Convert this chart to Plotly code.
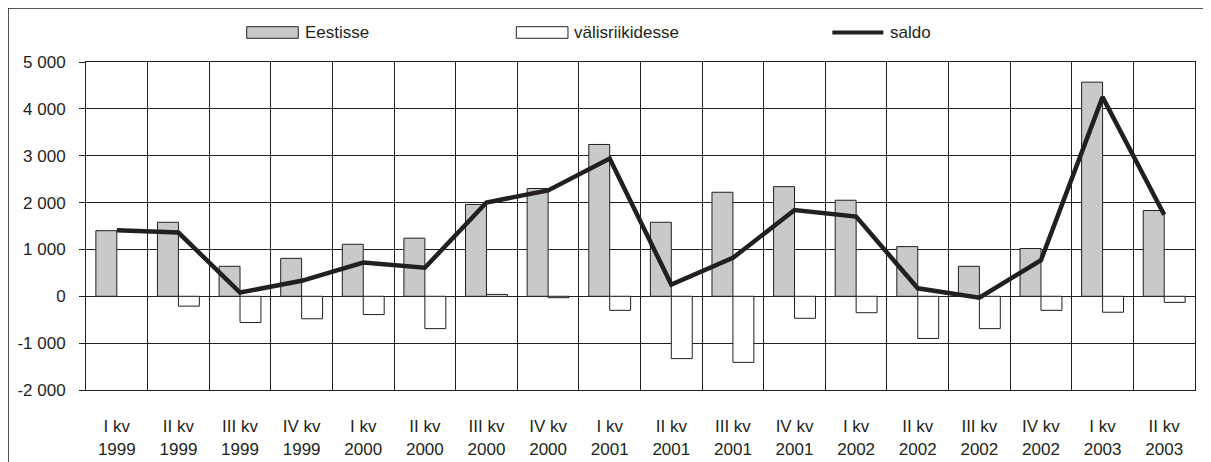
import plotly.graph_objects as go

quarters = ["I kv", "II kv", "III kv", "IV kv", "I kv", "II kv", "III kv", "IV kv",
            "I kv", "II kv", "III kv", "IV kv", "I kv", "II kv", "III kv", "IV kv",
            "I kv", "II kv"]
years = ["1999", "1999", "1999", "1999", "2000", "2000", "2000", "2000",
         "2001", "2001", "2001", "2001", "2002", "2002", "2002", "2002",
         "2003", "2003"]
categories = [f"{q}<br>{y}" for q, y in zip(quarters, years)]

eestisse = [1400, 1580, 640, 810, 1110, 1240, 1960, 2300, 3240, 1580, 2220, 2340,
            2050, 1060, 640, 1020, 4570, 1830]
valisriikidesse = [None, -210, -560, -480, -390, -690, 40, -30, -300, -1330, -1410, -470,
                   -350, -900, -690, -300, -340, -130]
saldo = [1410, 1360, 80, 330, 720, 610, 2000, 2260, 2940, 250, 820, 1840,
         1700, 170, -30, 770, 4250, 1740]

series_names = ["Eestisse", "välisriikidesse", "saldo"]
y_ticks = [-2000, -1000, 0, 1000, 2000, 3000, 4000, 5000]
y_tick_text = ["-2 000", "-1 000", "0", "1 000", "2 000", "3 000", "4 000", "5 000"]

FONT = "Liberation Sans, Arial, sans-serif"
TXT = "#231f20"
GRID = "#231f20"

fig = go.Figure()
fig.add_trace(go.Bar(x=categories, y=eestisse, name=series_names[0],
                     marker=dict(color="#c8c9cb", line=dict(color="#231f20", width=1))))
fig.add_trace(go.Bar(x=categories, y=valisriikidesse, name=series_names[1],
                     marker=dict(color="#ffffff", line=dict(color="#231f20", width=1))))
fig.add_trace(go.Scatter(x=categories, y=saldo, name=series_names[2], mode="lines",
                         line=dict(color="#231f20", width=4.5)))

# page body has an 8px margin, so the figure starts at (8, 8)
fig.update_layout(
    width=1203, height=454,
    margin=dict(l=78, r=16, t=54, b=72),
    paper_bgcolor="white", plot_bgcolor="white",
    barmode="group", bargap=0.32, bargroupgap=0,
    showlegend=False,
    font=dict(family=FONT, size=17, color=TXT),
)
fig.update_xaxes(
    type="category", tickson="boundaries", showgrid=True, gridcolor=GRID, gridwidth=1,
    showline=True, linecolor=GRID, linewidth=1, mirror=True, automargin=False,
    ticks="", ticklabelstandoff=21, tickfont=dict(size=17, color=TXT),
)
fig.update_yaxes(
    range=[-2000, 5000], tickvals=y_ticks, ticktext=y_tick_text, automargin=False,
    showgrid=True, gridcolor=GRID, gridwidth=1, zeroline=True, zerolinecolor=GRID, zerolinewidth=1,
    showline=True, linecolor=GRID, linewidth=1, mirror=True,
    ticks="outside", ticklen=6, tickcolor=GRID, ticklabelstandoff=10,
    tickfont=dict(size=17, color=TXT),
)

# outer frame (top and left edges visible)
fig.add_shape(type="rect", xref="paper", yref="paper", x0=-0.0703, x1=1.05, y0=-0.4, y1=1.1646,
              line=dict(color="#231f20", width=1.5), fillcolor="rgba(0,0,0,0)", layer="below")

# custom legend
ly0, ly1, lyc = 1.0723, 1.1076, 1.09
fig.add_shape(type="rect", xref="paper", yref="paper", x0=0.1449, x1=0.1914, y0=ly0, y1=ly1,
              line=dict(color="#231f20", width=1), fillcolor="#c8c9cb")
fig.add_shape(type="rect", xref="paper", yref="paper", x0=0.388, x1=0.4346, y0=ly0, y1=ly1,
              line=dict(color="#231f20", width=1), fillcolor="#ffffff")
fig.add_shape(type="line", xref="paper", yref="paper", x0=0.673, x1=0.719, y0=lyc, y1=lyc,
              line=dict(color="#231f20", width=4))
for xpos, name in zip([0.1957, 0.4382, 0.7232], series_names):
    fig.add_annotation(x=xpos, y=lyc, xref="paper", yref="paper", text=name, showarrow=False,
                       xanchor="left", yanchor="middle", font=dict(size=17, color=TXT, family=FONT))

fig.write_html("out.html")
